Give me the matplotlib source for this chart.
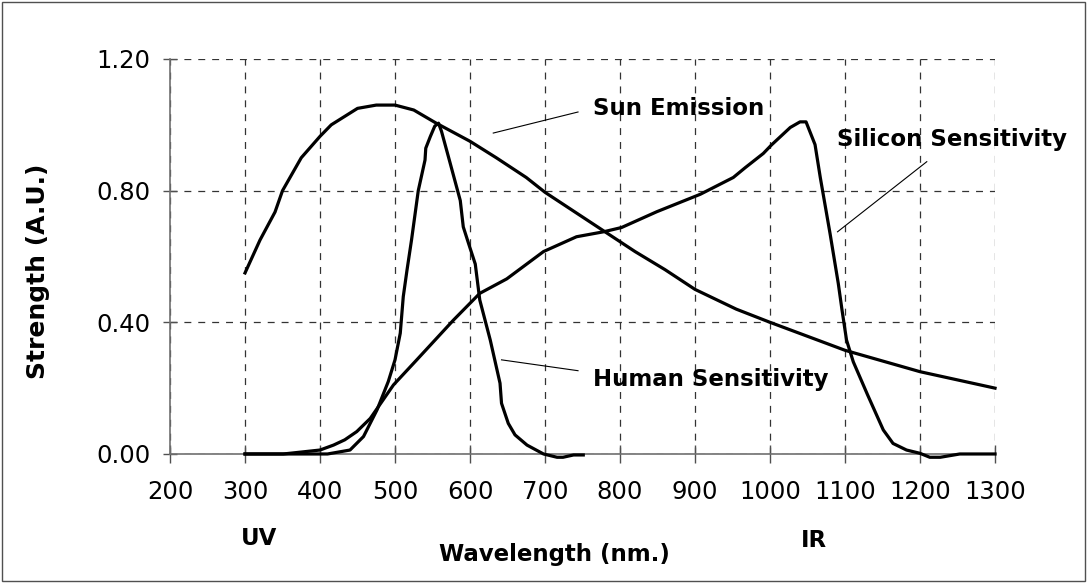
import numpy as np
import matplotlib
matplotlib.use("Agg")
import matplotlib.pyplot as plt
from matplotlib.patches import Rectangle

# ---------------- data
sun_wl = [300, 320, 340, 350, 375, 400, 415, 450, 475, 500, 525, 555, 600, 635,
          675, 700, 740, 780, 820, 860, 900, 955, 1000, 1100, 1200, 1300]
sun_val = [0.55, 0.65, 0.735, 0.80, 0.90, 0.965, 1.0, 1.05, 1.06, 1.06, 1.045, 1.005,
           0.95, 0.90, 0.84, 0.795, 0.735, 0.675, 0.615, 0.56, 0.50, 0.44, 0.40,
           0.315, 0.25, 0.20]

human_wl = [300, 350, 410, 440, 458, 476, 491, 500, 507, 511, 516, 522, 531, 540, 541,
            547, 553, 558, 562, 573, 587, 591, 598, 607, 613, 627, 640, 642, 651, 660,
            676, 698, 716, 724, 738, 751]
human_val = [0.0, 0.0, 0.0, 0.012, 0.053, 0.134, 0.22, 0.286, 0.367, 0.478, 0.559, 0.65,
             0.80, 0.893, 0.929, 0.964, 0.996, 1.005, 0.98, 0.888, 0.77, 0.69, 0.64,
             0.577, 0.468, 0.346, 0.215, 0.154, 0.093, 0.058, 0.027, 0.0, -0.01,
             -0.01, -0.003, -0.003]

silicon_wl = [300, 351, 400, 418, 433, 449, 467, 498, 529, 578, 613, 649, 698, 742, 778,
              802, 849, 907, 951, 967, 991, 1002, 1027, 1040, 1048, 1060, 1067, 1080,
              1091, 1096, 1102, 1111, 1130, 1151, 1164, 1182, 1200, 1213, 1227, 1253, 1300]
silicon_val = [0.0, 0.0, 0.012, 0.027, 0.043, 0.068, 0.108, 0.21, 0.286, 0.407, 0.488,
               0.532, 0.615, 0.66, 0.675, 0.688, 0.736, 0.789, 0.84, 0.87, 0.913, 0.939,
               0.992, 1.009, 1.009, 0.94, 0.84, 0.67, 0.518, 0.437, 0.346, 0.28, 0.18,
               0.073, 0.032, 0.012, 0.002, -0.01, -0.01, 0.0, 0.0]

x_ticks = list(range(200, 1301, 100))
y_ticks = [0.0, 0.40, 0.80, 1.20]

# curve labels: text, text anchor (x, y), leader line start and end
curve_labels = [
    ("Sun Emission", (764, 1.03), (631, 0.975), (744, 1.039)),
    ("Human Sensitivity", (764, 0.207), (642, 0.286), (744, 0.253)),
    ("Silicon Sensitivity", (1089, 0.936), (1090, 0.675), (1209, 0.888)),
]

plt.rcParams['lines.scale_dashes'] = False

fig = plt.figure(figsize=(10.87, 5.83), dpi=100)
ax = fig.add_axes([0.1564, 0.2213, 0.7590, 0.6775])

for wl, val in [(sun_wl, sun_val), (human_wl, human_val), (silicon_wl, silicon_val)]:
    ax.plot(wl, val, color='black', lw=2.3, clip_on=False, zorder=3,
            solid_joinstyle='round')

for text, (tx, ty), (x0, y0), (x1, y1) in curve_labels:
    ax.plot([x0, x1], [y0, y1], color='black', lw=0.8, clip_on=False, zorder=3)
    ax.text(tx, ty, text, fontsize=16.5, fontweight='bold', ha='left', va='baseline')

ax.set_xlim(200, 1300)
ax.set_ylim(0, 1.2)
ax.set_xticks(x_ticks)
ax.set_yticks(y_ticks)
ax.set_yticklabels(["%.2f" % v for v in y_ticks])

ax.grid(True, color='#333333', lw=0.9, linestyle=(0, (5, 5)))
ax.set_axisbelow(True)

for side in ['top', 'right']:
    ax.spines[side].set_visible(False)
for side in ['left', 'bottom']:
    ax.spines[side].set_color('#707070')
    ax.spines[side].set_linewidth(1.2)

ax.tick_params(axis='x', direction='inout', length=13, width=1, color='#505050',
               labelsize=17.5, pad=12.5)
ax.tick_params(axis='y', direction='inout', length=9.4, width=1, color='#505050',
               labelsize=17.5, pad=9.5)

fig.text(0.035, 0.535, "Strength (A.U.)", rotation=90, fontsize=18,
         fontweight='bold', ha='center', va='center')
fig.text(0.2383, 0.0652, "UV", fontsize=16.5, fontweight='bold', ha='center', va='baseline')
fig.text(0.7489, 0.0617, "IR", fontsize=16.5, fontweight='bold', ha='center', va='baseline')
fig.text(0.5097, 0.0377, "Wavelength (nm.)", fontsize=16.5, fontweight='bold',
         ha='center', va='baseline')

fig.patches.append(Rectangle((0.002, 0.003), 0.996, 0.994, transform=fig.transFigure,
                             fill=False, edgecolor='#505050', lw=1))

fig.savefig("out.png", dpi=100)
